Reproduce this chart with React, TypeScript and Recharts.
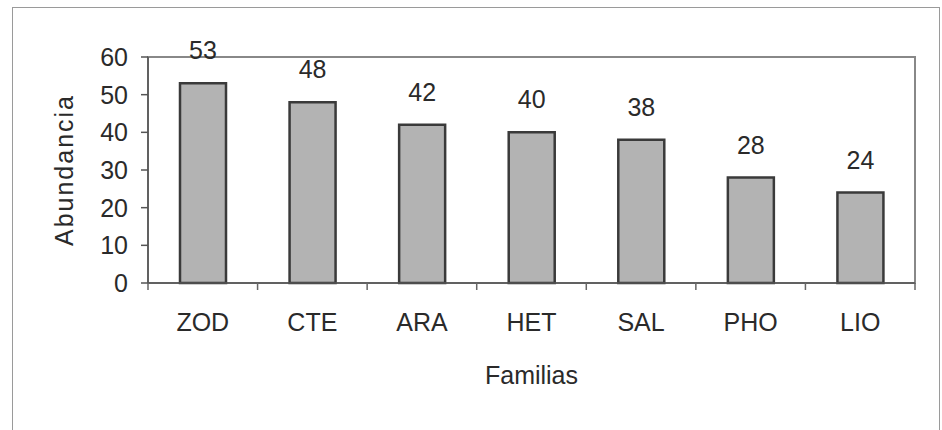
import { BarChart, Bar, XAxis, YAxis, LabelList, Label, ReferenceArea } from 'recharts';

const familias = ['ZOD', 'CTE', 'ARA', 'HET', 'SAL', 'PHO', 'LIO'];
const abundancia = [53, 48, 42, 40, 38, 28, 24];
const yTicks = [0, 10, 20, 30, 40, 50, 60];

const data = familias.map((f, i) => ({ familia: f, abundancia: abundancia[i] }));

const font = '"Liberation Sans", Arial, sans-serif';
const ink = '#2a2a2a';

// category label plus an Excel-style tick mark on the band boundary
function FamiliaTick(props: any) {
  const { x, y, payload, width, visibleTicksCount, index } = props;
  const band = width / visibleTicksCount;
  const axisY = y - 30;
  const left = x - band / 2;
  const right = x + band / 2;
  return (
    <g>
      <line x1={left} x2={left} y1={axisY} y2={axisY + 7} stroke="#666" strokeWidth={1.5} />
      {index === visibleTicksCount - 1 && (
        <line x1={right} x2={right} y1={axisY} y2={axisY + 7} stroke="#666" strokeWidth={1.5} />
      )}
      <text x={x} y={y} dy="0.71em" textAnchor="middle" fill={ink} fontSize={25} fontFamily={font}>
        {payload.value}
      </text>
    </g>
  );
}

export default function App() {
  return (
    <div style={{ position: 'absolute', left: 0, top: 0, width: 942, height: 430, background: '#fff', overflow: 'hidden' }}>
      <div
        style={{
          position: 'absolute',
          left: 12,
          top: 7,
          width: 928,
          height: 440,
          border: '1.5px solid #9a9a9a',
          boxSizing: 'border-box',
        }}
      />
      <div style={{ position: 'absolute', left: 0, top: 0 }}>
        <BarChart
          width={942}
          height={430}
          data={data}
          margin={{ top: 57, right: 27, left: 0, bottom: 0 }}
        >
          <XAxis
            dataKey="familia"
            tickLine={false}
            tickSize={8}
            tickMargin={22}
            height={147}
            stroke="#555"
            strokeWidth={1.5}
            interval={0}
            tick={<FamiliaTick />}
          >
            <Label value="Familias" position="insideBottom" offset={46} fill={ink} fontSize={25} fontFamily={font} />
          </XAxis>
          <YAxis
            domain={[0, 60]}
            ticks={yTicks}
            width={148}
            tickSize={7}
            tickMargin={13}
            stroke="#555"
            strokeWidth={1.5}
            tick={{ fill: ink, fontSize: 25, fontFamily: font }}
          >
            <Label
              value="Abundancia"
              angle={-90}
              position="center"
              dx={-10}
              fill={ink}
              fontSize={25}
              fontFamily={font}
              letterSpacing={2}
            />
          </YAxis>
          <ReferenceArea y1={0} y2={60} fill="none" stroke="#888" strokeWidth={2} ifOverflow="visible" />
          <Bar
            dataKey="abundancia"
            fill="#b3b3b3"
            stroke="#3a3a3a"
            strokeWidth={2.5}
            barSize={46}
            isAnimationActive={false}
          >
            <LabelList dataKey="abundancia" position="top" offset={24} fill={ink} fontSize={25} fontFamily={font} />
          </Bar>
        </BarChart>
      </div>
    </div>
  );
}
